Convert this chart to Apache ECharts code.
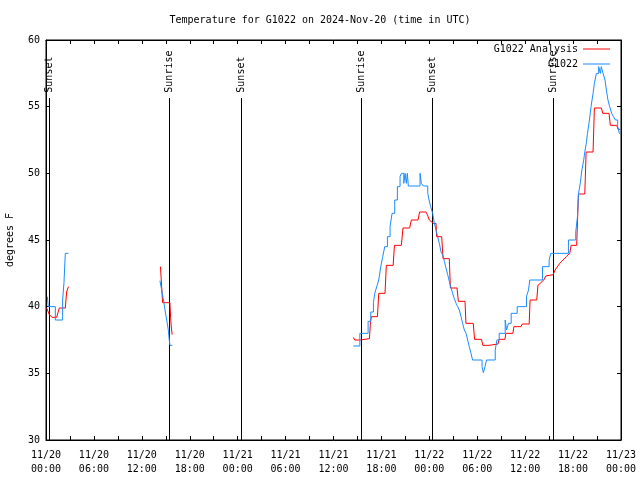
<!DOCTYPE html>
<html>
<head>
<meta charset="utf-8">
<script src="https://cdn.jsdelivr.net/npm/echarts@6/dist/echarts.min.js"></script>
<style>html,body{margin:0;padding:0;background:#fff;}#c{width:640px;height:480px;}</style>
</head>
<body>
<div id="c"></div>
<script>
// ---- data (times in UTC, "MM-DD HH:MM" of 2024) ----
const titleText = 'Temperature for G1022 on 2024-Nov-20 (time in UTC)';
const yName = 'degrees F';
const seriesNames = ['G1022 Analysis', 'G1022'];

const obsSeg1 = [
  ['11-20 00:10', 40.75], ['11-20 00:17', 40.0], ['11-20 01:10', 39.0], ['11-20 02:05', 40.5],
  ['11-20 02:15', 41.8], ['11-20 02:25', 44.0], ['11-20 02:48', 44.0]
];
const obsSeg2 = [
  ['11-20 14:16', 41.95], ['11-20 14:29', 41.25], ['11-20 14:41', 40.6], ['11-20 14:54', 39.75],
  ['11-20 15:07', 39.0], ['11-20 15:19', 38.25], ['11-20 15:26', 37.5], ['11-20 15:31', 37.1],
  ['11-20 15:49', 37.1]
];
const obsSeg3 = [
  ['11-21 14:29', 37.05], ['11-21 15:18', 38.0], ['11-21 16:20', 38.9], ['11-21 16:40', 39.6],
  ['11-21 17:00', 40.3], ['11-21 17:10', 41.0], ['11-21 17:25', 41.5], ['11-21 17:40', 42.0],
  ['11-21 17:55', 43.0], ['11-21 18:10', 43.75], ['11-21 18:25', 44.5], ['11-21 18:45', 45.25],
  ['11-21 19:05', 46.0], ['11-21 19:20', 47.0], ['11-21 19:40', 48.0], ['11-21 20:00', 49.0],
  ['11-21 20:20', 49.75], ['11-21 20:30', 50.0], ['11-21 20:48', 49.25], ['11-21 20:58', 50.0],
  ['11-21 21:07', 49.25], ['11-21 21:15', 50.0], ['11-21 21:22', 49.05], ['11-21 22:50', 50.0],
  ['11-21 23:00', 49.25], ['11-21 23:15', 49.05], ['11-21 23:48', 48.5], ['11-21 23:58', 48.0],
  ['11-22 00:10', 47.5], ['11-22 00:25', 47.0], ['11-22 00:37', 46.3], ['11-22 00:50', 45.75],
  ['11-22 01:02', 45.25], ['11-22 01:15', 44.75], ['11-22 01:28', 44.1], ['11-22 01:40', 43.9],
  ['11-22 01:53', 43.4], ['11-22 02:05', 42.9], ['11-22 02:18', 42.4], ['11-22 02:30', 41.9],
  ['11-22 02:43', 41.4], ['11-22 02:55', 41.0], ['11-22 03:08', 40.6], ['11-22 03:21', 40.25],
  ['11-22 03:33', 40.0], ['11-22 03:45', 39.75], ['11-22 03:58', 39.25], ['11-22 04:10', 38.75],
  ['11-22 04:23', 38.25], ['11-22 04:36', 38.0], ['11-22 04:48', 37.5], ['11-22 05:00', 37.0],
  ['11-22 05:13', 36.5], ['11-22 05:25', 36.0], ['11-22 06:36', 35.5], ['11-22 06:46', 35.05],
  ['11-22 06:58', 35.5], ['11-22 07:10', 36.0], ['11-22 08:15', 36.75], ['11-22 08:28', 37.5],
  ['11-22 08:45', 38.0], ['11-22 09:30', 39.0], ['11-22 09:40', 38.25], ['11-22 09:55', 38.75],
  ['11-22 10:15', 39.5], ['11-22 11:00', 40.0], ['11-22 12:10', 40.75], ['11-22 12:25', 41.25],
  ['11-22 12:35', 42.0], ['11-22 14:10', 43.0], ['11-22 15:00', 43.5], ['11-22 15:13', 44.0],
  ['11-22 17:25', 45.0], ['11-22 18:20', 45.6], ['11-22 18:33', 46.75], ['11-22 18:41', 48.5],
  ['11-22 18:55', 49.3], ['11-22 19:06', 50.25], ['11-22 19:20', 51.0], ['11-22 19:28', 51.6],
  ['11-22 19:40', 52.3], ['11-22 19:48', 53.0], ['11-22 20:00', 53.8], ['11-22 20:15', 55.0],
  ['11-22 20:30', 56.0], ['11-22 20:40', 56.75], ['11-22 20:55', 57.5], ['11-22 21:12', 58.0],
  ['11-22 21:25', 57.5], ['11-22 21:32', 58.0], ['11-22 21:45', 57.5], ['11-22 22:00', 57.0],
  ['11-22 22:10', 56.25], ['11-22 22:22', 55.5], ['11-22 22:35', 55.0], ['11-22 22:50', 54.5],
  ['11-22 23:03', 54.25], ['11-22 23:18', 54.0], ['11-22 23:35', 53.5], ['11-22 23:48', 53.0],
  ['11-22 23:55', 53.0]
];

const anaSeg1 = [
  ['11-20 00:05', 39.9], ['11-20 00:25', 39.4], ['11-20 00:45', 39.2], ['11-20 01:20', 39.2],
  ['11-20 01:40', 39.9], ['11-20 02:25', 39.9], ['11-20 02:35', 41.1], ['11-20 02:48', 41.5]
];
const anaSeg2 = [
  ['11-20 14:20', 43.0], ['11-20 14:33', 43.0], ['11-20 14:36', 40.3], ['11-20 15:31', 40.3],
  ['11-20 15:36', 39.2], ['11-20 15:42', 38.4], ['11-20 15:48', 37.9]
];
const anaSeg3 = [
  ['11-21 14:29', 37.7], ['11-21 14:40', 37.5], ['11-21 15:20', 37.5], ['11-21 15:27', 37.6],
  ['11-21 16:30', 37.6], ['11-21 16:38', 38.9], ['11-21 16:45', 39.25], ['11-21 17:30', 39.25],
  ['11-21 17:40', 41.0], ['11-21 18:27', 41.0], ['11-21 18:37', 43.1], ['11-21 19:28', 43.1],
  ['11-21 19:38', 44.6], ['11-21 20:30', 44.6], ['11-21 20:42', 45.9], ['11-21 21:32', 45.9],
  ['11-21 21:45', 46.5], ['11-21 22:35', 46.5], ['11-21 22:47', 47.1], ['11-21 23:35', 47.1],
  ['11-21 23:45', 46.9], ['11-22 00:00', 46.5], ['11-22 00:12', 46.5], ['11-22 00:30', 46.25],
  ['11-22 00:50', 46.25], ['11-22 00:55', 45.25], ['11-22 01:33', 45.25], ['11-22 01:43', 43.6],
  ['11-22 02:30', 43.6], ['11-22 02:38', 41.4], ['11-22 03:28', 41.4], ['11-22 03:38', 40.4],
  ['11-22 04:28', 40.4], ['11-22 04:35', 38.75], ['11-22 05:30', 38.75], ['11-22 05:40', 37.55],
  ['11-22 06:32', 37.55], ['11-22 06:42', 37.1], ['11-22 07:30', 37.1], ['11-22 07:38', 37.2],
  ['11-22 08:36', 37.2], ['11-22 08:44', 37.55], ['11-22 09:28', 37.55], ['11-22 09:35', 38.0],
  ['11-22 10:28', 38.0], ['11-22 10:35', 38.5], ['11-22 11:28', 38.5], ['11-22 11:38', 38.7],
  ['11-22 12:30', 38.7], ['11-22 12:37', 40.5], ['11-22 13:27', 40.5], ['11-22 13:36', 41.6],
  ['11-22 14:20', 42.0], ['11-22 14:35', 42.3], ['11-22 15:30', 42.4], ['11-22 15:45', 42.75],
  ['11-22 16:20', 43.25], ['11-22 17:10', 43.75], ['11-22 17:35', 44.0], ['11-22 17:45', 44.6],
  ['11-22 18:27', 44.6], ['11-22 18:40', 48.45], ['11-22 19:28', 48.45], ['11-22 19:38', 51.6],
  ['11-22 20:30', 51.6], ['11-22 20:40', 54.9], ['11-22 21:33', 54.9], ['11-22 21:43', 54.5],
  ['11-22 22:30', 54.5], ['11-22 22:40', 53.6], ['11-22 23:28', 53.6], ['11-22 23:38', 53.3],
  ['11-22 23:55', 53.3]
];

const sunTimes = ['11-20 00:23', '11-20 15:26', '11-21 00:24', '11-21 15:27', '11-22 00:23', '11-22 15:28'];
const sunLabels = ['Sunset', 'Sunrise', 'Sunset', 'Sunrise', 'Sunset', 'Sunrise'];

const xStart = '11-20 00:00', xEnd = '11-23 00:00';
const yMin = 30, yMax = 60, yStep = 5;

// ---- helpers ----
function ts(s) {
  const [d, hm] = s.split(' ');
  const [mo, da] = d.split('-').map(Number);
  const [h, m] = hm.split(':').map(Number);
  return Date.UTC(2024, mo - 1, da, h, m);
}
const toPts = seg => seg.map(p => [ts(p[0]), p[1]]);
const pad = n => (n < 10 ? '0' : '') + n;
const FONT = 'DejaVu Sans Mono';
const H6 = 6 * 3600 * 1000;
const RED = '#ff0000', BLUE = '#1a8cff';

const xCommon = {
  type: 'value', min: ts(xStart), max: ts(xEnd), interval: H6,
  axisLine: { show: true, lineStyle: { color: '#000', width: 1 } },
  axisTick: { show: true, inside: true, length: 4, lineStyle: { color: '#000' } },
  minorTick: { show: true, splitNumber: 2, length: 4, lineStyle: { color: '#000' } },
  splitLine: { show: false }
};
const yCommon = {
  type: 'value', min: yMin, max: yMax, interval: yStep,
  axisLine: { show: true, lineStyle: { color: '#000', width: 1 } },
  axisTick: { show: true, inside: true, length: 4, lineStyle: { color: '#000' } },
  splitLine: { show: false }
};

function lineSeries(name, seg, color, z, step) {
  return {
    name: name, type: 'line', xAxisIndex: 0, yAxisIndex: 0, z: z,
    data: toPts(seg), step: step, showSymbol: false, color: color,
    lineStyle: { color: color, width: 1 }
  };
}

const chart = echarts.init(document.getElementById('c'), null, { renderer: 'canvas' });
chart.setOption({
  animation: false,
  backgroundColor: '#fff',
  title: {
    text: titleText, left: 'center', top: 10,
    textStyle: { fontFamily: FONT, fontSize: 10, fontWeight: 'normal', color: '#000' }
  },
  grid: { left: 46, right: 19, top: 40, bottom: 40, outerBoundsMode: 'none', containLabel: false,
          show: true, borderColor: '#000', borderWidth: 1, backgroundColor: 'transparent' },
  legend: {
    data: seriesNames, orient: 'vertical', right: 30, top: 44, align: 'right',
    icon: 'rect', itemWidth: 27, itemHeight: 1, itemGap: 5, padding: 0,
    textStyle: { fontFamily: FONT, fontSize: 10, color: '#000' }
  },
  xAxis: [
    Object.assign({}, xCommon, {
      position: 'bottom',
      axisLabel: {
        show: true, showMinLabel: true, showMaxLabel: true, margin: 8,
        fontFamily: FONT, fontSize: 10, color: '#000', lineHeight: 14,
        formatter: v => {
          const d = new Date(v);
          return pad(d.getUTCMonth() + 1) + '/' + pad(d.getUTCDate()) + '\n' + pad(d.getUTCHours()) + ':' + pad(d.getUTCMinutes());
        }
      }
    }),
    Object.assign({}, xCommon, { position: 'top', axisLabel: { show: false } })
  ],
  yAxis: [
    Object.assign({}, yCommon, {
      position: 'left',
      name: yName, nameLocation: 'middle', nameRotate: 90, nameGap: 31,
      nameTextStyle: { fontFamily: FONT, fontSize: 10, color: '#000' },
      axisLabel: { fontFamily: FONT, fontSize: 10, color: '#000', margin: 6 }
    }),
    Object.assign({}, yCommon, { position: 'right', axisLabel: { show: false } })
  ],
  series: [
    {
      type: 'custom', xAxisIndex: 0, yAxisIndex: 0, silent: true, z: 1,
      data: sunTimes.map(t => [ts(t), yMin]),
      renderItem: (params, api) => {
        const x = api.value(0);
        const p0 = api.coord([x, yMin]);
        const p1 = api.coord([x, 55.65]);
        const pt = api.coord([x, 56.05]);
        const px = Math.round(p0[0]) + 0.5;
        return {
          type: 'group',
          children: [
            { type: 'line', shape: { x1: px, y1: p0[1], x2: px, y2: p1[1] }, style: { stroke: '#000', lineWidth: 1 } },
            { type: 'text', x: px, y: pt[1], rotation: Math.PI / 2,
              style: { text: sunLabels[params.dataIndex], fill: '#000', font: '10px "' + FONT + '"', align: 'left', verticalAlign: 'middle' } }
          ]
        };
      }
    },
    lineSeries(seriesNames[0], anaSeg1, RED, 3),
    lineSeries(seriesNames[0], anaSeg2, RED, 3),
    lineSeries(seriesNames[0], anaSeg3, RED, 3),
    lineSeries(seriesNames[1], obsSeg1, BLUE, 4, 'end'),
    lineSeries(seriesNames[1], obsSeg2, BLUE, 4, 'end'),
    lineSeries(seriesNames[1], obsSeg3, BLUE, 4, 'end')
  ]
});
</script>
</body>
</html>
